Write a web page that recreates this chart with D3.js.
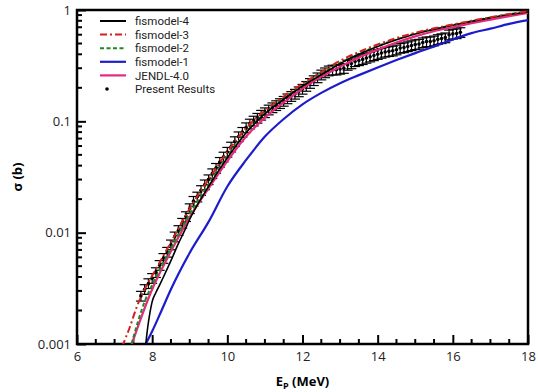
<!DOCTYPE html>
<html>
<head>
<meta charset = 'utf-8'>
<script src = 'https://d3js.org/d3.v7.min.js'></script>
<style>
body {margin: 0; background: #fff;}
text {font-family: 'Open Sans', sans-serif;}
</style>
</head>
<body>
<div id="my_dataviz"></div>
<script>
// measured cross sections (E in MeV, sigma in b)
var expE = [7.7, 7.8, 7.9, 8.0, 8.1, 8.2, 8.3, 8.4, 8.5, 8.6, 8.7, 8.8, 8.9, 9.0, 9.1, 9.2, 9.3, 9.4, 9.5, 9.6,
  9.7, 9.8, 9.9, 10.0, 10.1, 10.2, 10.3, 10.4, 10.5, 10.6, 10.7, 10.8, 10.9, 11.0, 11.1, 11.2, 11.3, 11.4, 11.5, 11.6,
  11.7, 11.8, 11.9, 12.0, 12.1, 12.2, 12.3, 12.4, 12.5, 12.6, 12.7, 12.8, 12.9, 13.0, 13.1, 13.2, 13.3, 13.4, 13.5, 13.6,
  13.7, 13.8, 13.9, 14.0, 14.1, 14.2, 14.3, 14.4, 14.5, 14.6, 14.7, 14.8, 14.9, 15.0, 15.1, 15.2, 15.3, 15.4, 15.5, 15.6,
  15.7, 15.8, 15.9, 16.0, 16.1, 16.2];
var expSigma = [0.0027, 0.0031, 0.0035, 0.0039, 0.0044, 0.0051, 0.0059, 0.0067, 0.0078, 0.0092, 0.0105, 0.0122, 0.0140, 0.0165, 0.0192, 0.021, 0.024, 0.027, 0.030, 0.034,
  0.038, 0.043, 0.048, 0.053, 0.059, 0.066, 0.073, 0.080, 0.088, 0.095, 0.101, 0.107, 0.114, 0.120, 0.127, 0.133, 0.139, 0.145, 0.152, 0.160,
  0.168, 0.176, 0.185, 0.195, 0.207, 0.220, 0.233, 0.247, 0.262, 0.274, 0.285, 0.290, 0.290, 0.295, 0.300, 0.320, 0.330, 0.345, 0.352, 0.360,
  0.370, 0.380, 0.390, 0.400, 0.410, 0.420, 0.425, 0.430, 0.440, 0.455, 0.460, 0.470, 0.480, 0.490, 0.495, 0.510, 0.520, 0.520, 0.530, 0.545,
  0.555, 0.565, 0.600, 0.610, 0.615, 0.630];
var expErr = 0.1;

// model curves
var fis4E = [7.83, 7.88, 7.94, 8.0, 8.1, 8.2, 8.3, 8.5, 8.7, 8.85, 9.0, 9.5, 10.0, 10.5, 11.0, 11.5, 12.0, 12.5, 13.0, 13.5, 14.0, 14.5, 15.0, 15.5, 16.0, 16.5, 17.0, 17.5, 18.0];
var fis4S = [0.001, 0.0014, 0.0019, 0.0024, 0.0029, 0.0034, 0.0040, 0.0056, 0.0080, 0.0102, 0.0132, 0.026, 0.047, 0.079, 0.117, 0.158, 0.207, 0.262, 0.330, 0.400, 0.470, 0.540, 0.610, 0.670, 0.730, 0.790, 0.850, 0.910, 0.960];

var fis3E = [7.2, 7.4, 7.6, 7.8, 8.0, 8.5, 9.0, 9.5, 10.0, 10.5, 11.0, 11.5, 12.0, 12.5, 13.0, 13.5, 14.0, 14.5, 15.0, 15.5, 16.0, 16.5, 17.0, 17.5, 18.0];
var fis3S = [0.00095, 0.0014, 0.0022, 0.0031, 0.0041, 0.0082, 0.0165, 0.030, 0.053, 0.087, 0.125, 0.167, 0.218, 0.278, 0.350, 0.420, 0.490, 0.560, 0.625, 0.685, 0.740, 0.800, 0.860, 0.920, 0.975];

var fis2E = [7.45, 7.8, 8.0, 8.5, 9.0, 9.5, 10.0, 10.5, 11.0, 11.5, 12.0, 12.5, 13.0, 13.5, 14.0, 14.5, 15.0, 15.5, 16.0, 16.5, 17.0, 17.5, 18.0];
var fis2S = [0.001, 0.0024, 0.0034, 0.0072, 0.0148, 0.027, 0.048, 0.080, 0.118, 0.160, 0.210, 0.267, 0.335, 0.405, 0.475, 0.545, 0.615, 0.675, 0.735, 0.795, 0.855, 0.915, 0.965];

var fis1E = [7.83, 8.0, 8.25, 8.5, 9.0, 9.5, 10.0, 10.5, 11.0, 11.5, 12.0, 12.5, 13.0, 13.5, 14.0, 14.5, 15.0, 15.5, 16.0, 16.5, 17.0, 17.5, 18.0];
var fis1S = [0.001, 0.0013, 0.002, 0.0031, 0.0066, 0.0125, 0.026, 0.045, 0.073, 0.105, 0.142, 0.180, 0.220, 0.260, 0.305, 0.355, 0.410, 0.470, 0.545, 0.620, 0.680, 0.750, 0.810];

var jendlE = [7.46, 7.7, 8.0, 8.5, 9.0, 9.5, 10.0, 10.5, 11.0, 11.5, 12.0, 12.5, 13.0, 13.5, 14.0, 14.5, 15.0, 15.5, 16.0, 16.5, 17.0, 17.5, 18.0];
var jendlS = [0.001, 0.0017, 0.0031, 0.0068, 0.0138, 0.025, 0.044, 0.073, 0.108, 0.148, 0.197, 0.252, 0.310, 0.375, 0.440, 0.510, 0.580, 0.645, 0.700, 0.760, 0.820, 0.880, 0.940];

var legendNames = ['fismodel-4', 'fismodel-3', 'fismodel-2', 'fismodel-1', 'JENDL-4.0', 'Present Results'];
var xTicks = [6, 8, 10, 12, 14, 16, 18];
var yTicks = [0.001, 0.01, 0.1, 1];

var margin = {top: 10, right: 10, bottom: 48, left: 77},
width = 538 - margin.left - margin.right,
height = 392 - margin.top - margin.bottom;

var svg = d3.select('#my_dataviz')
.append('svg')
.attr('width', 538)
.attr('height', 392)
.append('g')
.attr('transform', 'translate(' + margin.left + ',' + margin.top + ')');

var x = d3.scaleLinear().domain([6, 18]).range([0, width]);
var y = d3.scaleLog().domain([0.001, 1]).range([height, 0]);

svg.append('clipPath').attr('id', 'clip')
.append('rect').attr('width', width).attr('height', height);

// minor ticks
var xMinor = d3.range(6, 18.01, 0.5).filter(function(d) {return d % 2 != 0;});
var yMinor = [];
[0.001, 0.01, 0.1].forEach(function(dec) {
  for (var k = 2; k <= 9; k++) yMinor.push(dec * k);
});

var xAxis = svg.append('g')
.attr('transform', 'translate(0,' + height + ')')
.call(d3.axisBottom(x).tickValues(xTicks).tickSize(-9).tickPadding(8).tickFormat(d3.format('d')));
xAxis.append('g').selectAll('line').data(xMinor).enter().append('line')
.attr('x1', function(d) {return x(d);}).attr('x2', function(d) {return x(d);})
.attr('y1', 0).attr('y2', -5).style('stroke', '#000').style('stroke-width', 2);

var yAxis = svg.append('g')
.call(d3.axisLeft(y).tickValues(yTicks).tickSize(-9).tickPadding(6).tickFormat(function(d) {return d == 1 ? '1' : String(d);}));
yAxis.append('g').selectAll('line').data(yMinor).enter().append('line')
.attr('y1', function(d) {return y(d);}).attr('y2', function(d) {return y(d);})
.attr('x1', 0).attr('x2', 5).style('stroke', '#000').style('stroke-width', 2);

svg.selectAll('.domain').remove();
svg.selectAll('.tick line').style('stroke-width', 2);
svg.selectAll('.tick text').style('font-size', '13px').style('fill', '#222').style('font-family', "'Open Sans', sans-serif");
xAxis.selectAll('.tick text').attr('dy', '0.71em');

// frame
svg.append('rect').attr('width', width).attr('height', height)
.style('fill', 'none').style('stroke', '#000').style('stroke-width', 2.5);

var line = d3.line()
.x(function(d) {return x(d[0]);})
.y(function(d) {return y(d[1]);})
.curve(d3.curveMonotoneX);

function zip(a, b) {return a.map(function(v, i) {return [v, b[i]];});}

var series = [
  {pts: zip(fis1E, fis1S), color: '#1c1ccc', dash: null, w: 2.2},
  {pts: zip(jendlE, jendlS), color: '#e8287f', dash: null, w: 2.2},
  {pts: zip(fis2E, fis2S), color: '#1e8a1e', dash: '4,2.5', w: 2},
  {pts: zip(fis4E, fis4S), color: '#000', dash: null, w: 1.6},
  {pts: zip(fis3E, fis3S), color: '#d42020', dash: '7,3,2,3', w: 2}
];

var plot = svg.append('g').attr('clip-path', 'url(#clip)');

// data points with error bars
var pts = zip(expE, expSigma);
var eb = plot.append('g').selectAll('g').data(pts).enter().append('g');
eb.append('line')
.attr('x1', function(d) {return x(d[0]);}).attr('x2', function(d) {return x(d[0]);})
.attr('y1', function(d) {return y(d[1] * (1 - expErr));}).attr('y2', function(d) {return y(d[1] * (1 + expErr));})
.style('stroke', '#000').style('stroke-width', 1.2);
eb.append('line')
.attr('x1', function(d) {return x(d[0]) - 5;}).attr('x2', function(d) {return x(d[0]) + 5;})
.attr('y1', function(d) {return y(d[1] * (1 - expErr));}).attr('y2', function(d) {return y(d[1] * (1 - expErr));})
.style('stroke', '#000').style('stroke-width', 1.2);
eb.append('line')
.attr('x1', function(d) {return x(d[0]) - 5;}).attr('x2', function(d) {return x(d[0]) + 5;})
.attr('y1', function(d) {return y(d[1] * (1 + expErr));}).attr('y2', function(d) {return y(d[1] * (1 + expErr));})
.style('stroke', '#000').style('stroke-width', 1.2);
eb.append('circle')
.attr('cx', function(d) {return x(d[0]);}).attr('cy', function(d) {return y(d[1]);})
.attr('r', 1.8).style('fill', '#000');

plot.selectAll('path.model').data(series).enter().append('path')
.attr('class', 'model')
.attr('d', function(d) {return line(d.pts);})
.style('fill', 'none')
.style('stroke', function(d) {return d.color;})
.style('stroke-width', function(d) {return d.w;})
.style('stroke-dasharray', function(d) {return d.dash;});

// legend
var legStyle = [
  {color: '#000', dash: null, w: 2},
  {color: '#d42020', dash: '7,3,2,3', w: 2},
  {color: '#1e8a1e', dash: '4,2.5', w: 2},
  {color: '#1c1ccc', dash: null, w: 2.2},
  {color: '#e8287f', dash: null, w: 2.2}
];
var leg = svg.append('g').attr('transform', 'translate(23,11)');
legendNames.forEach(function(name, i) {
  var yy = i * 13.6;
  if (i < 5) {
    leg.append('line').attr('x1', 0).attr('x2', 26).attr('y1', yy).attr('y2', yy)
    .style('stroke', legStyle[i].color).style('stroke-width', legStyle[i].w)
    .style('stroke-dasharray', legStyle[i].dash);
  } else {
    leg.append('circle').attr('cx', 7).attr('cy', yy).attr('r', 1.8).style('fill', '#000');
  }
  leg.append('text').attr('x', 35).attr('y', yy + 4.2)
  .style('font-family', 'Roboto, sans-serif')
  .style('font-size', '11.5px').style('fill', '#222').text(name);
});

// axis titles
svg.append('text')
.attr('transform', 'translate(-55,' + (height / 2) + ') rotate(-90)')
.attr('text-anchor', 'middle')
.style('font-size', '13px').style('font-weight', 'bold')
.text('σ (b)');

var xt = svg.append('text')
.attr('x', width / 2).attr('y', height + 42)
.attr('text-anchor', 'middle')
.style('font-size', '13px').style('font-weight', 'bold');
xt.append('tspan').text('E');
xt.append('tspan').attr('dy', 3).style('font-size', '9px').text('P');
xt.append('tspan').attr('dy', -3).text(' (MeV)');
</script>
</body>
</html>
